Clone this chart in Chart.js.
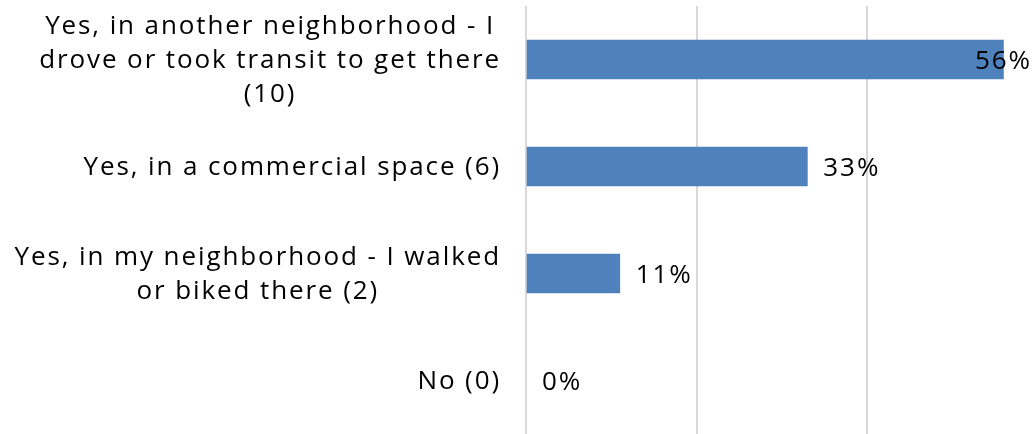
<!DOCTYPE html>
<html>
<head>
<meta charset="utf-8">
<script src="https://cdn.jsdelivr.net/npm/chart.js@4/dist/chart.umd.min.js"></script>
<style>
  html, body { margin: 0; padding: 0; background: #fff; }
  #wrap { width: 1032px; height: 434px; position: relative; }
</style>
</head>
<body>
<div id="wrap"><canvas id="myChart"></canvas></div>
<script>
// categories (one array of lines per label) and shares
var categories = [
    ['Yes, in another neighborhood - I', 'drove or took transit to get there', '(10)'],
    ['Yes, in a commercial space (6)'],
    ['Yes, in my neighborhood - I walked', 'or biked there (2)'],
    ['No (0)']
];
var shares = [0.56, 0.33, 0.11, 0];
var shareLabels = ['56%', '33%', '11%', '0%'];

var FONT = '26px "Open Sans", sans-serif';
var SPACING = '1.9px';

// y labels: lines centred on each other, block right-aligned
var categoryLabels = {
    id: 'categoryLabels',
    afterDraw: function (chart) {
        var ctx = chart.ctx;
        var y = chart.scales.y;
        ctx.save();
        ctx.font = FONT;
        ctx.letterSpacing = SPACING;
        ctx.fillStyle = '#000';
        ctx.textAlign = 'left';
        ctx.textBaseline = 'middle';
        categories.forEach(function (lines, i) {
            var widths = lines.map(function (l) { return ctx.measureText(l).width; });
            var widest = Math.max.apply(null, widths);
            var cx = 501 - widest / 2;
            var cy = y.getPixelForTick(i) + 1;
            lines.forEach(function (l, j) {
                ctx.fillText(l, cx - widths[j] / 2, cy + (j - (lines.length - 1) / 2) * 34);
            });
        });
        ctx.restore();
    }
};

// value labels right of each bar, pulled back inside the canvas if needed
var valueLabels = {
    id: 'valueLabels',
    afterDatasetsDraw: function (chart) {
        var ctx = chart.ctx;
        var area = chart.chartArea;
        ctx.save();
        ctx.font = FONT;
        ctx.letterSpacing = SPACING;
        ctx.fillStyle = '#000';
        ctx.textBaseline = 'middle';
        chart.getDatasetMeta(0).data.forEach(function (bar, i) {
            var t = shareLabels[i];
            var w = ctx.measureText(t).width;
            var x = bar.x + 16;
            if (x + w > area.right) x = area.right - w;
            ctx.fillText(t, x, bar.y + 2);
        });
        ctx.restore();
    }
};

new Chart(
    document.getElementById('myChart').getContext('2d'), {
        type: 'bar',
        data: {
            labels: categories.map(function (c) { return c.join(' '); }),
            datasets: [{
                data: shares,
                backgroundColor: function (c) {
                    return c.raw === 0 ? 'rgba(0,0,0,0)' : '#4f81bd';
                },
                barThickness: 39
            }]
        },
        options: {
            indexAxis: 'y',
            responsive: true,
            maintainAspectRatio: false,
            animation: false,
            layout: { padding: { top: 6, left: 0, right: 0, bottom: 0 } },
            plugins: {
                legend: { display: false },
                title: { display: false },
                tooltip: { enabled: false }
            },
            scales: {
                x: {
                    min: 0,
                    max: 0.5935,
                    ticks: { display: false, stepSize: 0.2 },
                    grid: {
                        drawTicks: false,
                        lineWidth: 2,
                        color: function (c) {
                            var v = c.tick ? c.tick.value : 0;
                            return Math.abs(v / 0.2 - Math.round(v / 0.2)) < 1e-6 ? '#d9d9d9' : 'rgba(0,0,0,0)';
                        }
                    },
                    border: { display: false },
                    afterFit: function (s) { s.height = 0; }
                },
                y: {
                    ticks: { display: false },
                    grid: { display: false, drawTicks: false },
                    border: { display: false },
                    afterFit: function (s) { s.width = 526; }
                }
            }
        },
        plugins: [categoryLabels, valueLabels]
    }
);
</script>
</body>
</html>
